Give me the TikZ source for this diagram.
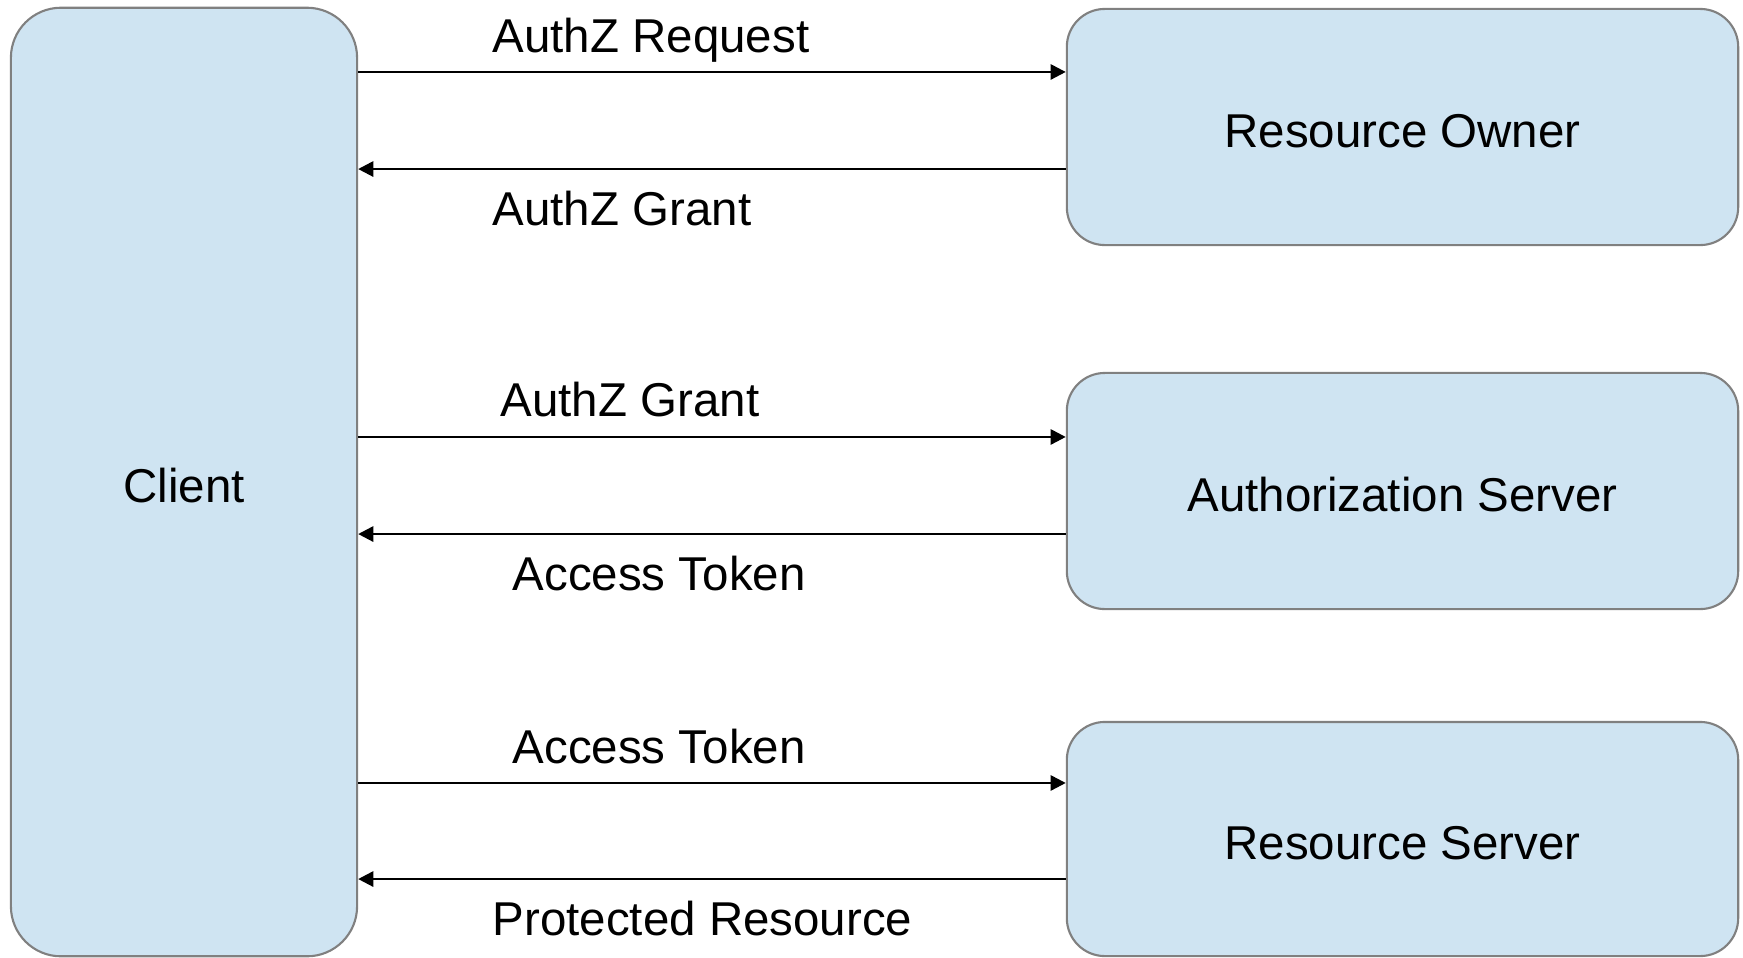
\documentclass[tikz,border=0pt]{standalone}
\usepackage{fontspec}
\setmainfont{Liberation Sans}
\usepackage{xcolor}
\usetikzlibrary{arrows.meta}
\definecolor{boxfill}{RGB}{207,228,242}
\definecolor{boxline}{RGB}{128,128,128}

\begin{document}
\begin{tikzpicture}[x=0.01cm, y=-0.01cm,
        party/.style={draw=boxline, fill=boxfill, line width=0.6pt,
            rounded corners=0.38cm, inner sep=0pt,
            text height=0.40cm, text depth=0pt,
            font=\fontsize{13.5}{16}\selectfont},
        msg/.style={line width=0.7pt, -{Triangle[length=4.3pt, width=4.3pt]}},
        msglabel/.style={anchor=base west, inner sep=0pt,
            font=\fontsize{13.5}{16}\selectfont}]
        \useasboundingbox (0, 0) rectangle (1743, 957);

        \node[party, rounded corners=0.5cm, minimum width=3.46cm,
            minimum height=9.48cm] (client) at (184, 482) {Client};
        \node[party, minimum width=6.71cm, minimum height=2.36cm]
            (owner) at (1402.5, 127) {Resource Owner};
        \node[party, minimum width=6.71cm, minimum height=2.36cm]
            (authsrv) at (1402.5, 491) {Authorization Server};
        \node[party, minimum width=6.71cm, minimum height=2.34cm]
            (ressrv) at (1402.5, 839) {Resource Server};

        \coordinate (ownerin) at ([yshift=0.55cm]owner.west);
        \coordinate (ownerout) at ([yshift=-0.42cm]owner.west);
        \coordinate (authin) at ([yshift=0.54cm]authsrv.west);
        \coordinate (authout) at ([yshift=-0.43cm]authsrv.west);
        \coordinate (resin) at ([yshift=0.56cm]ressrv.west);
        \coordinate (resout) at ([yshift=-0.40cm]ressrv.west);

        \draw[msg] (client.east |- ownerin) -- (ownerin);
        \draw[msg] (ownerout) -- (client.east |- ownerout);
        \draw[msg] (client.east |- authin) -- (authin);
        \draw[msg] (authout) -- (client.east |- authout);
        \draw[msg] (client.east |- resin) -- (resin);
        \draw[msg] (resout) -- (client.east |- resout);

        \node[msglabel] (reqlabel) at (492, 52) {AuthZ Request};
        \node[msglabel] (grantlabel) at (492, 225) {AuthZ Grant};
        \node[msglabel] (grantlabelb) at (500, 416) {AuthZ Grant};
        \node[msglabel] (tokenlabel) at (512, 590) {Access Token};
        \node[msglabel] (tokenlabelb) at (512, 763) {Access Token};
        \node[msglabel] (reslabel) at (492, 935) {Protected Resource};

    \end{tikzpicture}
\end{document}
